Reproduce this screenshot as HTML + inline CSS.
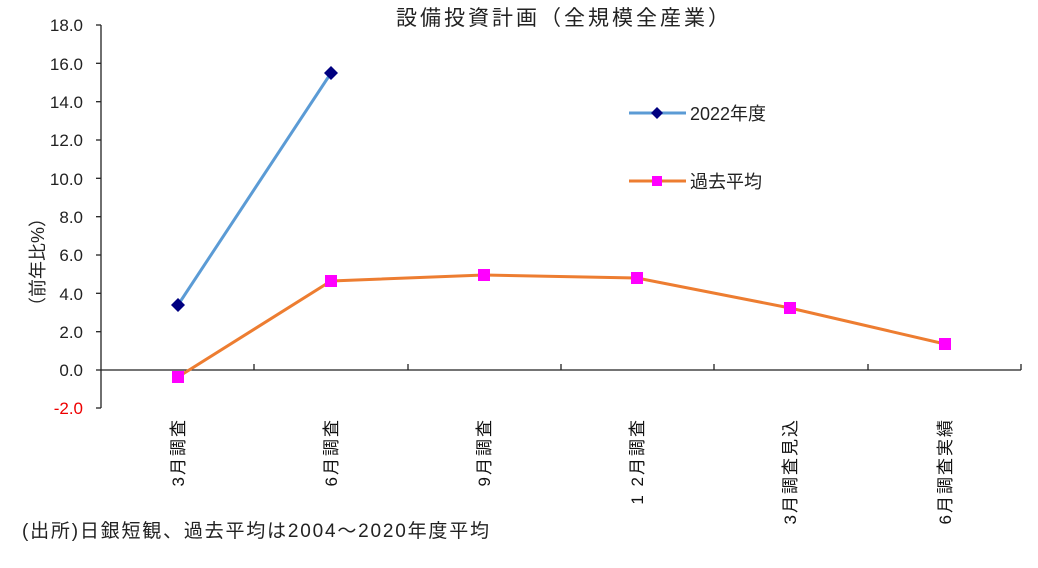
<!DOCTYPE html>
<html><head><meta charset="utf-8"><style>
html,body{margin:0;padding:0;background:#fff;}
svg{display:block;font-family:"Liberation Sans","Noto Sans CJK JP",sans-serif;}
</style></head><body>
<svg width="1038" height="568" viewBox="0 0 1038 568">
<text x="564" y="25" font-size="21" letter-spacing="3" text-anchor="middle" fill="#222">設備投資計画（全規模全産業）</text>
<g stroke="#222" stroke-width="1.3" fill="none">
<line x1="101" y1="25" x2="101" y2="408"/>
<line x1="101" y1="370" x2="1021" y2="370"/>
<line x1="96" y1="25" x2="101" y2="25"/><line x1="96" y1="63.3" x2="101" y2="63.3"/>
<line x1="96" y1="101.7" x2="101" y2="101.7"/><line x1="96" y1="140" x2="101" y2="140"/>
<line x1="96" y1="178.3" x2="101" y2="178.3"/><line x1="96" y1="216.7" x2="101" y2="216.7"/>
<line x1="96" y1="255" x2="101" y2="255"/><line x1="96" y1="293.3" x2="101" y2="293.3"/>
<line x1="96" y1="331.7" x2="101" y2="331.7"/><line x1="96" y1="370" x2="101" y2="370"/>
<line x1="96" y1="408" x2="101" y2="408"/>
<line x1="254" y1="364" x2="254" y2="370"/><line x1="408" y1="364" x2="408" y2="370"/>
<line x1="561" y1="364" x2="561" y2="370"/><line x1="714" y1="364" x2="714" y2="370"/>
<line x1="868" y1="364" x2="868" y2="370"/><line x1="1021" y1="364" x2="1021" y2="370"/>
</g>
<g font-size="17" text-anchor="end" fill="#222">
<text x="83" y="31">18.0</text><text x="83" y="70">16.0</text><text x="83" y="108">14.0</text>
<text x="83" y="146">12.0</text><text x="83" y="185">10.0</text><text x="83" y="223">8.0</text>
<text x="83" y="261">6.0</text><text x="83" y="300">4.0</text><text x="83" y="338">2.0</text>
<text x="83" y="376">0.0</text><text x="83" y="414" fill="#e00">-2.0</text>
</g>
<text transform="translate(44,262) rotate(-90)" font-size="18" text-anchor="middle" fill="#222">（前年比%）</text>
<g font-size="17" text-anchor="end" fill="#111" letter-spacing="2">
<text transform="translate(184,418) rotate(-90)">3月調査</text>
<text transform="translate(337,418) rotate(-90)">6月調査</text>
<text transform="translate(490,418) rotate(-90)">9月調査</text>
<text transform="translate(643,418) rotate(-90)">1 2月調査</text>
<text transform="translate(796,418) rotate(-90)">3月調査見込</text>
<text transform="translate(951,418) rotate(-90)">6月調査実績</text>
</g>
<text x="22" y="537" font-size="19" fill="#222" letter-spacing="1.8">(出所)日銀短観、過去平均は2004～2020年度平均</text>
<polyline points="178,305 331,73" stroke="#5b9bd5" stroke-width="3" fill="none"/>
<polyline points="178,377 331,281 484,275 637,278 790,308 945,344" stroke="#ed7d31" stroke-width="3" fill="none"/>
<g fill="#000080">
<polygon points="178,298 185,305 178,312 171,305"/>
<polygon points="331,66 338,73 331,80 324,73"/>
</g>
<g fill="#ff00ff">
<rect x="172" y="371" width="12" height="12"/><rect x="325" y="275" width="12" height="12"/>
<rect x="478" y="269" width="12" height="12"/><rect x="631" y="272" width="12" height="12"/>
<rect x="784" y="302" width="12" height="12"/><rect x="939" y="338" width="12" height="12"/>
</g>
<line x1="629" y1="113" x2="686" y2="113" stroke="#5b9bd5" stroke-width="3"/>
<polygon points="657,107 663,113 657,119 651,113" fill="#000080"/>
<text x="690" y="120" font-size="18" fill="#222">2022年度</text>
<line x1="629" y1="181" x2="686" y2="181" stroke="#ed7d31" stroke-width="3"/>
<rect x="652" y="176" width="10" height="10" fill="#ff00ff"/>
<text x="690" y="188" font-size="18" fill="#222">過去平均</text>
</svg>
</body></html>
